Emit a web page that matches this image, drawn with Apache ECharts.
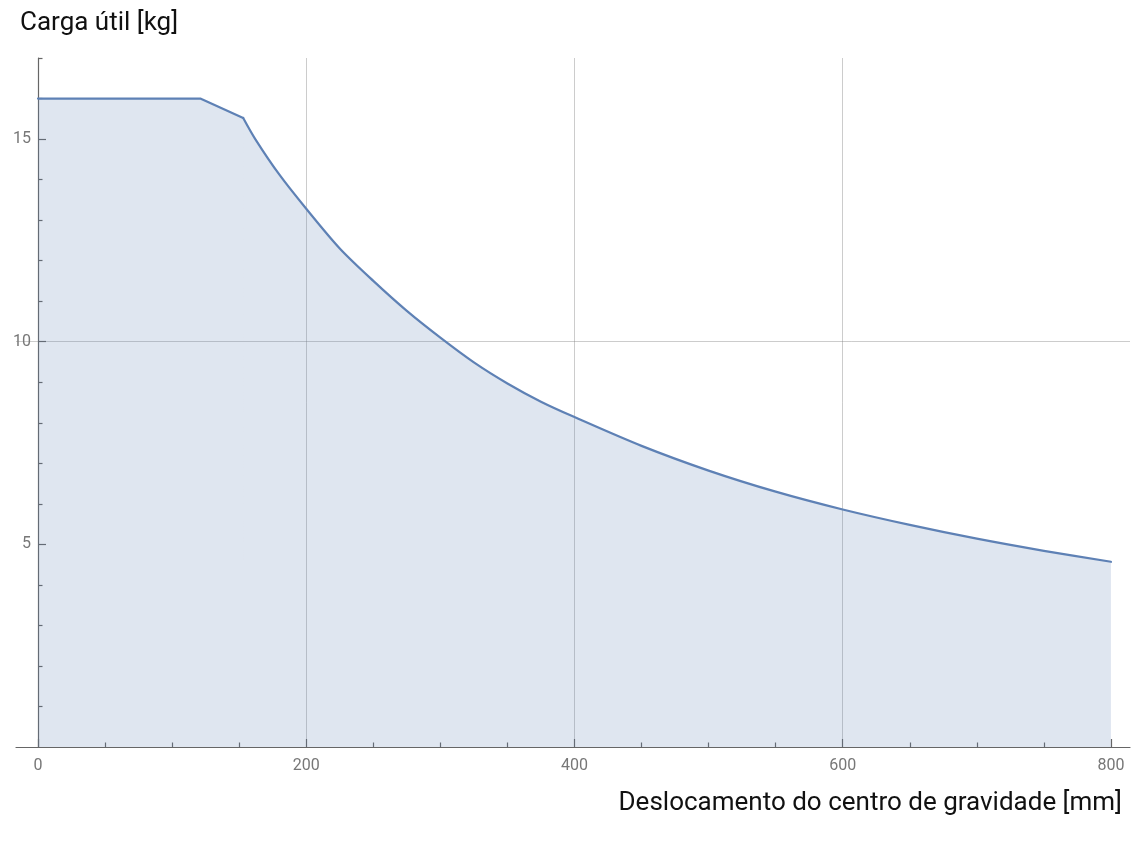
<!DOCTYPE html>
<html>
<head>
<meta charset="utf-8">
<title>Carga útil</title>
<script src="https://cdn.jsdelivr.net/npm/echarts@6/dist/echarts.min.js"></script>
<style>
  html, body { margin: 0; padding: 0; background: #ffffff; }
  #chart { width: 1135px; height: 843px; }
</style>
</head>
<body>
<div id="chart"></div>
<script>
// Centre-of-gravity offset [mm] and allowed payload [kg]
const offset  = [0, 121, 153, 162, 180, 200, 225, 250, 275, 300, 325, 350, 375, 400, 450, 500, 550, 600, 650, 700, 750, 800];
const payload = [16, 16, 15.52, 15.0, 14.12, 13.28, 12.3, 11.5, 10.76, 10.1, 9.49, 8.97, 8.52, 8.14, 7.43, 6.82, 6.3, 5.86, 5.48, 5.14, 4.84, 4.57];
// The curve is straight up to this point, smooth after it
const kneeIndex = 2;

// Tick positions
const xMajorTicks = [0, 200, 400, 600, 800];
const xMinorTicks = [50, 100, 150, 250, 300, 350, 450, 500, 550, 650, 700, 750];
const yMajorTicks = [5, 10, 15];
const yMinorTicks = [1, 2, 3, 4, 6, 7, 8, 9, 11, 12, 13, 14, 16, 17];

// Axis ranges (the axes run a little past the plotted data)
const xRange = [-16.4, 814.2];
const yRange = [0, 17];

// Plot area
const W = 1135;
const gridBox = { left: 16, right: 5, top: 58, bottom: 96 };
// The vertical axis sits at x = 0, inside the horizontal range
const plotWidth = W - gridBox.left - gridBox.right;
const yAxisShift = -(0 - xRange[0]) / (xRange[1] - xRange[0]) * plotWidth;

const axisGray = '#666666';
const labelGray = '#777777';
const gridGray = 'rgba(128,128,128,0.4)';
const curveBlue = '#5E81B5';

const points = offset.map((x, i) => [x, payload[i]]);

const chart = echarts.init(document.getElementById('chart'), null, { renderer: 'canvas' });

const curveSeries = (data, smooth) => ({
  name: 'Carga útil',
  type: 'line',
  xAxisIndex: 0,
  yAxisIndex: 0,
  data: data,
  showSymbol: false,
  symbol: 'none',
  smooth: smooth,
  lineStyle: { color: curveBlue, width: 2.2, join: 'round', cap: 'round' },
  areaStyle: { color: curveBlue, opacity: 0.2 },
  z: 2
});

chart.setOption({
  backgroundColor: '#ffffff',
  animation: false,
  title: [
    {
      text: 'Carga útil [kg]',
      left: 20, top: 10, padding: 0,
      textStyle: { fontFamily: 'Roboto', fontSize: 26, fontWeight: 'normal', color: '#111111' }
    },
    {
      text: 'Deslocamento do centro de gravidade [mm]',
      right: 13, top: 790, padding: 0,
      textStyle: { fontFamily: 'Roboto', fontSize: 26, fontWeight: 'normal', color: '#111111' }
    }
  ],
  grid: Object.assign({ containLabel: false, outerBoundsMode: 'none' }, gridBox),
  xAxis: [
    {
      type: 'value',
      min: xRange[0], max: xRange[1],
      splitNumber: 4,
      position: 'bottom',
      axisLine: { show: true, onZero: false, lineStyle: { color: axisGray, width: 1.2 } },
      axisTick: { show: true, inside: true, length: 8, customValues: xMajorTicks, lineStyle: { color: axisGray, width: 1.2 } },
      axisLabel: {
        show: true, customValues: xMajorTicks, margin: 11,
        color: labelGray, fontFamily: 'Roboto', fontSize: 16
      },
      splitLine: { show: true, showMinLine: false, showMaxLine: false, lineStyle: { color: gridGray, width: 1 } }
    },
    {
      type: 'value',
      min: xRange[0], max: xRange[1],
      splitNumber: 4,
      position: 'bottom',
      axisLine: { show: false, onZero: false },
      axisTick: { show: true, inside: true, length: 4.5, customValues: xMinorTicks, lineStyle: { color: axisGray, width: 1.2 } },
      axisLabel: { show: false },
      splitLine: { show: false }
    }
  ],
  yAxis: [
    {
      type: 'value',
      min: yRange[0], max: yRange[1],
      interval: 5,
      position: 'left',
      offset: yAxisShift,
      axisLine: { show: true, onZero: false, lineStyle: { color: axisGray, width: 1.2 } },
      axisTick: { show: true, inside: true, length: 8, customValues: yMajorTicks, lineStyle: { color: axisGray, width: 1.2 } },
      axisLabel: {
        show: true, customValues: yMajorTicks, margin: 7,
        color: labelGray, fontFamily: 'Roboto', fontSize: 16
      },
      splitLine: { show: true, showMinLine: false, showMaxLine: false, lineStyle: { color: gridGray, width: 1 } }
    },
    {
      type: 'value',
      min: yRange[0], max: yRange[1],
      interval: 1,
      position: 'left',
      offset: yAxisShift,
      axisLine: { show: false, onZero: false },
      axisTick: { show: true, inside: true, length: 4.5, customValues: yMinorTicks, lineStyle: { color: axisGray, width: 1.2 } },
      axisLabel: { show: false },
      splitLine: { show: false }
    }
  ],
  series: [
    // plateau and the short straight drop to the knee
    curveSeries(points.slice(0, kneeIndex + 1), false),
    // smooth falling curve from the knee onwards
    curveSeries(points.slice(kneeIndex), 0.3)
  ]
});
</script>
</body>
</html>
